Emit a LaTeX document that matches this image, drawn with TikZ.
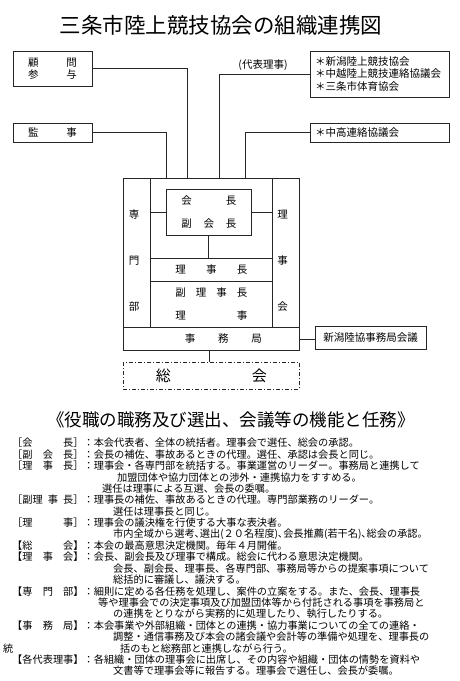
\documentclass[tikz,border=0pt]{standalone}
\usepackage{fontspec}
\setmainfont{Noto Sans CJK JP}
\usetikzlibrary{positioning,calc}
\newcommand{\midashi}[3]{\makebox[10.2pt]{#1}\makebox[51pt]{#2}\makebox[10.2pt]{#3}}
\tikzset{
  waku/.style     = {draw=black!85, line width=0.7pt, inner sep=0pt,
                     font=\fontsize{10.5}{12.3}\selectfont},
  wakufuto/.style = {draw=black!85, line width=1.1pt, inner sep=0pt},
  wakunaka/.style = {draw=black!85, line width=0.8pt, inner sep=0pt,
                     font=\fontsize{10.5}{22.6}\selectfont, align=center},
  moji/.style     = {inner sep=0pt, font=\fontsize{10.5}{12}\selectfont},
  honbun/.style   = {anchor=west, inner sep=0pt, font=\fontsize{10.2}{11}\selectfont},
  sen/.style      = {draw=black!85, line width=0.7pt},
  tensen/.style   = {draw=black!85, line width=1.2pt,
                     dash pattern=on 4pt off 2pt on 1pt off 2pt}
}
\begin{document}
\begin{tikzpicture}[x=1pt, y=-1pt]
    \fill[white] (0,0) rectangle (460,681);
    \useasboundingbox (0,0) rectangle (460,681);

    % title
    \node[inner sep=0pt, font=\fontsize{21.5}{22}\selectfont] (title) at (221,25) {三条市陸上競技協会の組織連携図};

    % outer boxes
    \node[waku, minimum width=79pt, minimum height=35pt, align=center] (komon) at (52.5,68.5)
        {\makebox[49pt]{顧\hfill 問}\\\makebox[49pt]{参\hfill 与}};
    \node[waku, minimum width=79pt, minimum height=19pt] (kanji) at (52.5,132.5)
        {\makebox[49pt]{監\hfill 事}};
    \node[waku, text width=129pt, inner xsep=5pt, minimum height=46pt, align=left] (kyokai) at (379.5,74)
        {＊新潟陸上競技協会\\＊中越陸上競技連絡協議会\\＊三条市体育協会};
    \node[waku, text width=129pt, inner xsep=5pt, minimum height=19pt, align=left] (chuko) at (379.5,132.5)
        {＊中高連絡協議会};
    \node[moji] (daihyo) at (263,65) {(代表理事)};

    % main structure
    \node[wakufuto, minimum width=176pt, minimum height=172.4pt] (soshiki) at (211.3,264.5) {};
    \node[wakunaka, minimum width=26.7pt, minimum height=149pt] (senmon) at (136.7,252.8) {};
    \node[wakunaka, minimum width=26.7pt, minimum height=149pt] (rijikai) at (286,252.8) {};
    \node[wakunaka, minimum width=176pt, minimum height=23.4pt] (jimu) at (211.3,339)
        {\hspace*{24pt}\makebox[77pt]{事\hfill 務\hfill 局}};
    \node[wakunaka, minimum width=122.7pt, minimum height=22.7pt] (richo) at (211.35,269.65)
        {\makebox[72pt]{理\hfill 事\hfill 長}};
    \node[wakunaka, minimum width=122.7pt, minimum height=46.3pt, font=\fontsize{10.5}{22.7}\selectfont] (fukuriji) at (211.35,304.15)
        {\makebox[72pt]{副\hfill 理\hfill 事\hfill 長}\\\makebox[72pt]{理\hfill 事}};
    \node[wakunaka, minimum width=85.7pt, minimum height=45.7pt] (kaicho) at (208.85,212.15)
        {\makebox[55pt]{会\hfill 長}\\\makebox[55pt]{副\hfill 会\hfill 長}};
    \node[moji, align=center, font=\fontsize{10.5}{46}\selectfont] (t-senmon) at (134,261) {専\\門\\部};
    \node[moji, align=center, font=\fontsize{10.5}{46}\selectfont] (t-rijikai) at (282.7,261) {理\\事\\会};

    \node[waku, minimum width=111pt, minimum height=22.6pt] (niigata) at (370.5,338) {新潟陸協事務局会議};
    \node[tensen, inner sep=0pt, minimum width=176pt, minimum height=26.6pt, font=\fontsize{15}{16}\selectfont] (sokai) at (211.3,376)
        {\makebox[111pt]{総\hfill 会}};

    % connectors
    \coordinate (c-komon) at (187.3,0);
    \coordinate (c-kanji) at (166.7,0);
    \coordinate (c-kyokai) at (219.3,0);
    \coordinate (c-chuko) at (245.7,0);
    \draw[sen] (komon.east) -| (c-komon |- soshiki.north);
    \draw[sen] (kanji.east) -| (c-kanji |- soshiki.north);
    \draw[sen] (kyokai.west) -| (c-kyokai |- soshiki.north);
    \draw[sen] (chuko.west) -| (c-chuko |- soshiki.north);
    \draw[sen, line width=0.8pt] (kaicho.west) -- (kaicho.west -| senmon.east);
    \draw[sen, line width=0.8pt] (kaicho.east) -- (kaicho.east -| rijikai.west);
    \draw[sen, line width=0.8pt] (kaicho.south) -- (kaicho.south |- richo.north);
    \draw[sen] (jimu.east) -- (jimu.east -| niigata.west);
    \draw[sen] (kaicho.south |- jimu.south) -- (kaicho.south |- sokai.north);

    % description
    \node[inner sep=0pt, font=\fontsize{17.5}{18}\selectfont] (midashi) at (231,420) {《役職の職務及び選出、会議等の機能と任務》};

    \node[honbun] (g1) at (12,443) {\midashi{［}{会\hfill 長}{］}：本会代表者、全体の統括者。理事会で選任、総会の承認。};
    \node[honbun] (g2) at (12,454.4) {\midashi{［}{副\hfill 会\hfill 長}{］}：会長の補佐、事故あるときの代理。選任、承認は会長と同じ。};
    \node[honbun] (g3) at (12,465.8) {\midashi{［}{理\hfill 事\hfill 長}{］}：理事会・各専門部を統括する。事業運営のリーダー。事務局と連携して};
    \node[honbun] (g4) at (117,477.2) {加盟団体や協力団体との渉外・連携協力をすすめる。};
    \node[honbun] (g5) at (102,488.6) {選任は理事による互選、会長の委嘱。};
    \node[honbun] (g6) at (12,500) {\midashi{［}{副理\hfill 事\hfill 長}{］}：理事長の補佐、事故あるときの代理。専門部業務のリーダー。};
    \node[honbun] (g7) at (113,511.4) {選任は理事長と同じ。};
    \node[honbun] (g8) at (12,522.8) {\midashi{［}{理\hfill 事}{］}：理事会の議決権を行使する大事な表決者。};
    \node[honbun] (g9) at (113,534.2) {市内全域から選考､選出(２０名程度)､会長推薦(若干名)､総会の承認。};
    \node[honbun] (g10) at (12,545.6) {\midashi{【}{総\hfill 会}{】}：本会の最高意思決定機関。毎年４月開催。};
    \node[honbun] (g11) at (12,557) {\midashi{【}{理\hfill 事\hfill 会}{】}：会長、副会長及び理事で構成。総会に代わる意思決定機関。};
    \node[honbun] (g12) at (113,568.4) {会長、副会長、理事長、各専門部、事務局等からの提案事項について};
    \node[honbun] (g13) at (113,579.8) {総括的に審議し、議決する。};
    \node[honbun] (g14) at (12,591.2) {\midashi{【}{専\hfill 門\hfill 部}{】}：細則に定める各任務を処理し、案件の立案をする。また、会長、理事長};
    \node[honbun] (g15) at (98,602.6) {等や理事会での決定事項及び加盟団体等から付託される事項を事務局と};
    \node[honbun] (g16) at (113,614) {の連携をとりながら実務的に処理したり、執行したりする。};
    \node[honbun] (g17) at (12,625.4) {\midashi{【}{事\hfill 務\hfill 局}{】}：本会事業や外部組織・団体との連携・協力事業についての全ての連絡・};
    \node[honbun] (g18) at (113,636.8) {調整・通信事務及び本会の諸会議や会計等の準備や処理を、理事長の};
    \node[honbun] (g19a) at (3,648.2) {統};
    \node[honbun] (g19) at (120,648.2) {括のもと総務部と連携しながら行う。};
    \node[honbun] (g20) at (12,659.6) {\midashi{【}{各代表理事}{】}：各組織・団体の理事会に出席し、その内容や組織・団体の情勢を資料や};
    \node[honbun] (g21) at (113,671) {文書等で理事会等に報告する。理事会で選任し、会長が委嘱。};
\end{tikzpicture}
\end{document}
